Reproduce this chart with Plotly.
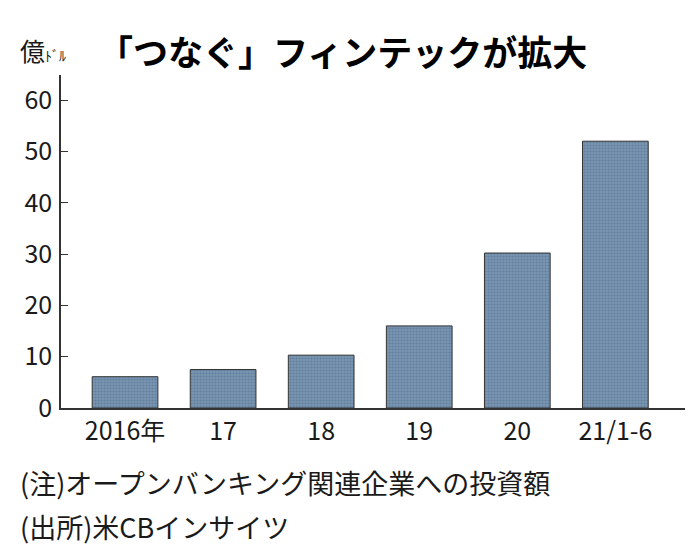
import plotly.graph_objects as go

categories = ["2016年", "17", "18", "19", "20", "21/1-6"]
values = [6.1, 7.5, 10.3, 16.0, 30.2, 52.0]
y_ticks = [0, 10, 20, 30, 40, 50, 60]

FONT = "Noto Sans CJK JP"

fig = go.Figure()
fig.add_trace(go.Bar(
    x=list(range(len(categories))), y=values, width=0.67,
    marker=dict(color="#6f8daa", line=dict(color="#333333", width=1),
                pattern=dict(shape=".", fgcolor="#4f6a85", bgcolor="#7895b1", size=3, solidity=0.4)),
))

fig.update_layout(
    width=696, height=552,
    margin=dict(l=53, r=19, t=67, b=152),
    paper_bgcolor="white", plot_bgcolor="white",
    showlegend=False,
    font=dict(family=FONT, color="#1a1a1a"),
)
fig.update_xaxes(
    range=[-0.653, 5.71], tickvals=list(range(len(categories))), ticktext=categories,
    showline=True, linecolor="#333333", linewidth=1.5, ticks="", showgrid=False,
    tickfont=dict(size=25, family=FONT), zeroline=False, automargin=False,
)
fig.update_yaxes(
    range=[0, 64.9], tickvals=y_ticks, showline=True, linecolor="#333333", linewidth=1.5,
    ticks="inside", ticklen=7, tickcolor="#333333", showgrid=False, zeroline=False,
    tickfont=dict(size=25, family=FONT), automargin=False, ticklabelstandoff=2,
)

fig.add_annotation(text="億<span style='font-size:14px'>ﾄﾞﾙ</span>", x=10, y=42,
                   xanchor="left", yanchor="middle", showarrow=False, font=dict(size=25))
fig.add_annotation(text="<b>「つなぐ」フィンテックが拡大</b>", x=88, y=42,
                   xanchor="left", yanchor="middle", showarrow=False, font=dict(size=35, color="black"))
fig.add_annotation(text="(注)オープンバンキング関連企業への投資額", x=10, y=474,
                   xanchor="left", yanchor="middle", showarrow=False, font=dict(size=27))
fig.add_annotation(text="(出所)米CBインサイツ", x=10, y=518,
                   xanchor="left", yanchor="middle", showarrow=False, font=dict(size=27))

# annotations above are placed in pixel coords; convert to paper coords
pw, ph = 696 - 53 - 19, 552 - 67 - 152
for a in fig.layout.annotations:
    px, py = a.x, a.y
    a.x = (px - 53) / pw
    a.y = 1 - (py - 67) / ph
    a.xref = "paper"; a.yref = "paper"

fig.write_html("out.html")
